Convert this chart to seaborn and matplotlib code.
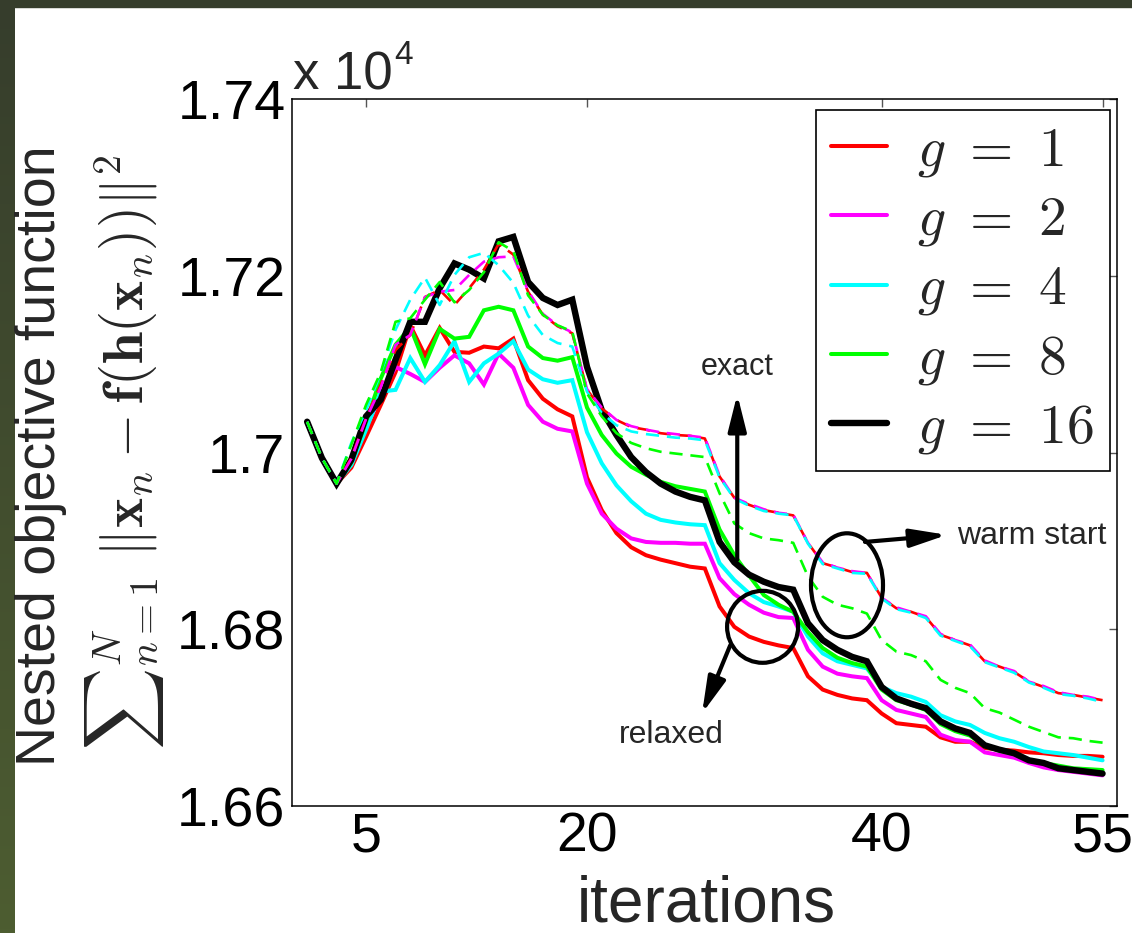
import numpy as np
import pandas as pd
import matplotlib
matplotlib.use("Agg")
import matplotlib.pyplot as plt
import seaborn as sns
from matplotlib.patches import Ellipse, Rectangle
from matplotlib.colors import LinearSegmentedColormap
from matplotlib.ticker import FuncFormatter

# ---------------- data ----------------
iterations = list(range(1, 56))

relaxed_g1 = [17035, 16994, 16965, 16983, 17018, 17054, 17091, 17144, 17110, 17141,
              17114, 17113, 17120, 17118, 17129, 17082, 17061, 17049, 17041, 16972,
              16935, 16909, 16893, 16884, 16879, 16875, 16871, 16869, 16826, 16803,
              16792, 16786, 16782, 16779, 16747, 16732, 16726, 16722, 16720, 16705,
              16694, 16692, 16690, 16678, 16673, 16673, 16666, 16664, 16663, 16661,
              16660, 16658, 16657, 16657, 16656]
relaxed_g2 = [17035, 16994, 16965, 16989, 17029, 17065, 17097, 17089, 17080, 17096,
              17110, 17101, 17077, 17112, 17096, 17054, 17035, 17027, 17024, 16965,
              16931, 16914, 16903, 16899, 16898, 16898, 16897, 16897, 16858, 16840,
              16828, 16819, 16814, 16813, 16777, 16758, 16750, 16747, 16745, 16720,
              16709, 16705, 16701, 16681, 16675, 16673, 16661, 16658, 16655, 16649,
              16644, 16641, 16639, 16637, 16635]
relaxed_g4 = [17035, 16994, 16965, 16986, 17026, 17069, 17071, 17107, 17080, 17099,
              17126, 17080, 17101, 17112, 17126, 17094, 17083, 17079, 17082, 17023,
              16988, 16963, 16945, 16931, 16924, 16921, 16919, 16918, 16875, 16856,
              16841, 16831, 16826, 16820, 16792, 16773, 16764, 16760, 16756, 16735,
              16728, 16724, 16718, 16703, 16696, 16692, 16683, 16677, 16673, 16667,
              16662, 16660, 16658, 16655, 16652]
relaxed_g8 = [17035, 16994, 16965, 16989, 17035, 17084, 17122, 17142, 17100, 17140,
              17129, 17131, 17161, 17165, 17161, 17120, 17107, 17104, 17108, 17051,
              17020, 16999, 16984, 16975, 16967, 16962, 16959, 16956, 16913, 16884,
              16861, 16839, 16828, 16820, 16797, 16779, 16768, 16762, 16758, 16732,
              16720, 16715, 16709, 16693, 16685, 16680, 16668, 16663, 16659, 16652,
              16649, 16646, 16643, 16642, 16641]
relaxed_g16 = [17035, 16994, 16965, 16992, 17041, 17060, 17105, 17148, 17148, 17186,
               17214, 17207, 17197, 17239, 17244, 17193, 17175, 17167, 17173, 17097,
               17048, 17020, 16995, 16978, 16965, 16956, 16950, 16946, 16899, 16876,
               16862, 16854, 16848, 16845, 16807, 16788, 16777, 16769, 16764, 16735,
               16722, 16716, 16711, 16696, 16688, 16683, 16669, 16664, 16660, 16652,
               16649, 16643, 16641, 16639, 16637]

warm_g1 = [17035, 16994, 16965, 16994, 17039, 17077, 17116, 17133, 17176, 17184,
           17167, 17186, 17207, 17236, 17224, 17182, 17156, 17143, 17135, 17071,
           17050, 17037, 17029, 17026, 17022, 17020, 17019, 17016, 16973, 16949,
           16941, 16935, 16932, 16929, 16898, 16875, 16870, 16865, 16864, 16836,
           16824, 16820, 16814, 16794, 16788, 16782, 16764, 16758, 16752, 16741,
           16735, 16728, 16726, 16723, 16720]
warm_g2 = [17035, 16994, 16965, 16993, 17038, 17074, 17122, 17133, 17176, 17182,
           17184, 17201, 17216, 17221, 17222, 17183, 17157, 17144, 17136, 17072,
           17051, 17037, 17030, 17026, 17023, 17021, 17019, 17017, 16974, 16949,
           16942, 16936, 16932, 16930, 16898, 16876, 16870, 16866, 16864, 16836,
           16825, 16820, 16815, 16795, 16788, 16783, 16765, 16758, 16753, 16741,
           16736, 16729, 16726, 16724, 16720]
warm_g4 = [17035, 16994, 16965, 17011, 17048, 17090, 17139, 17173, 17198, 17167,
           17201, 17221, 17226, 17212, 17192, 17155, 17133, 17124, 17120, 17069,
           17045, 17031, 17024, 17021, 17019, 17017, 17016, 17014, 16972, 16948,
           16940, 16934, 16931, 16929, 16897, 16874, 16869, 16864, 16863, 16835,
           16823, 16819, 16813, 16793, 16787, 16781, 16763, 16757, 16751, 16740,
           16734, 16727, 16725, 16722, 16718]
warm_g8 = [17035, 16994, 16965, 17009, 17054, 17091, 17148, 17152, 17173, 17193,
           17170, 17184, 17204, 17238, 17228, 17178, 17156, 17144, 17137, 17067,
           17041, 17022, 17011, 17005, 17001, 16999, 16997, 16995, 16954, 16920,
           16909, 16903, 16901, 16898, 16860, 16837, 16828, 16824, 16818, 16788,
           16775, 16771, 16764, 16743, 16734, 16728, 16711, 16706, 16698, 16690,
           16684, 16678, 16677, 16674, 16672]

legend_labels = [r'$g\ =\ 1$', r'$g\ =\ 2$', r'$g\ =\ 4$', r'$g\ =\ 8$', r'$g\ =\ 16$']
x_ticks = [5, 20, 40, 55]
y_ticks = [16600, 16800, 17000, 17200, 17400]

# ---------------- style ----------------
sns.set_style("white")
plt.rcParams['font.family'] = ['Liberation Sans', 'DejaVu Sans']
plt.rcParams['mathtext.fontset'] = 'cm'
plt.rcParams['lines.dashed_pattern'] = [5.0, 3.0]

W, H = 1132, 933
fig = plt.figure(figsize=(W / 100, H / 100), dpi=100)
fig.patch.set_facecolor('white')

# dark olive frame (left gradient strip + top strip)
bg = fig.add_axes([0, 0, 15 / W, 1])
bg.axis('off')
cmap = LinearSegmentedColormap.from_list('olive', ['#4d5d31', '#363d2c'])
bg.imshow(np.linspace(0, 1, 256).reshape(-1, 1), aspect='auto', cmap=cmap,
          origin='lower', extent=[0, 1, 0, 1])
fig.patches.append(Rectangle((0, 1 - 7 / H), 1, 7 / H, transform=fig.transFigure,
                             color='#363d2c', zorder=5))

ax = fig.add_axes([292.4 / W, (H - 806.3) / H, 824.9 / W, 707.3 / H])
ax.set_facecolor('white')

solid_series = [relaxed_g1, relaxed_g2, relaxed_g4, relaxed_g8, relaxed_g16]
solid_colors = ['#ff0000', '#ff00ff', '#00ffff', '#00ff00', '#000000']
solid_widths = [2.9, 2.9, 2.9, 2.9, 4.6]
handles = []
for vals, col, lw, lab in zip(solid_series, solid_colors, solid_widths, legend_labels):
    sns.lineplot(x=iterations, y=vals, color=col, lw=lw, ax=ax, legend=False,
                 solid_joinstyle='miter')
    line = ax.lines[-1]
    line.set_label(lab)
    handles.append(line)

warm_series = [warm_g1, warm_g2, warm_g4, warm_g8]
warm_colors = ['#ff0000', '#ff00ff', '#00ffff', '#00ff00']
for vals, col in zip(warm_series, warm_colors):
    sns.lineplot(x=iterations, y=vals, color=col, lw=1.9, linestyle='--', ax=ax,
                 legend=False)

ax.set_xlim(0, 56)
ax.set_ylim(16600, 17400)
ax.set_xticks(x_ticks)
ax.set_yticks(y_ticks)
ax.yaxis.set_major_formatter(FuncFormatter(lambda v, p: f'{v / 1e4:g}'))
ax.set_xlabel('')
ax.set_ylabel('')
for s in ax.spines.values():
    s.set_visible(True)
    s.set_color('black')
    s.set_linewidth(1.1)
ax.tick_params(axis='both', direction='in', length=6, width=1.0, color='#555555',
               top=True, right=True, labelsize=40, labelcolor='black')
ax.tick_params(axis='x', pad=4)
ax.tick_params(axis='y', pad=5)

# legend
leg = ax.legend(handles=handles, labels=legend_labels, loc='upper right',
                bbox_to_anchor=(0.991, 0.984), borderaxespad=0, fontsize=40,
                frameon=True, fancybox=False, edgecolor='black', framealpha=1,
                handlelength=1.0, handletextpad=0.55, borderpad=0.28,
                labelspacing=0.28)
leg.get_frame().set_linewidth(1.2)

# annotations
arrow_kw = dict(arrowstyle='-|>,head_length=2.2,head_width=0.55', lw=3,
                color='black', shrinkA=0, shrinkB=0)
ax.annotate('', xy=(30.2, 17066), xytext=(30.2, 16879), arrowprops=arrow_kw)
ax.text(30.2, 17097, 'exact', fontsize=22, ha='center', va='center')

ax.add_patch(Ellipse((37.65, 16850), 4.89, 117.6, fill=False, lw=3, ec='black',
                     zorder=6))
ax.annotate('', xy=(44.44, 16907), xytext=(38.87, 16899), arrowprops=arrow_kw)
ax.text(45.12, 16906, 'warm start', fontsize=23, ha='left', va='center')

ax.add_patch(Ellipse((31.92, 16803), 4.82, 81.4, fill=False, lw=3, ec='black',
                     zorder=6))
ax.annotate('', xy=(27.81, 16705), xytext=(29.72, 16782), arrowprops=arrow_kw)
ax.text(25.7, 16681, 'relaxed', fontsize=23, ha='center', va='center')

# axis titles
fig.text(706 / W, 1 - 921 / H, 'iterations', fontsize=46, ha='center',
         va='baseline')
fig.text(41 / W, 1 - 456 / H, 'Nested objective function', fontsize=40,
         rotation=90, ha='center', va='center')
fig.text(125 / W, 1 - 452 / H,
         r'${\sum}_{n=1}^{N}\ \|\mathbf{x}_n-\mathbf{f}(\mathbf{h}(\mathbf{x}_n))\|^2$',
         fontsize=41, rotation=90, ha='center', va='center')

# exponent label
fig.text(293 / W, 1 - 90 / H, 'x 10', fontsize=38, ha='left', va='baseline')
fig.text(394 / W, 1 - 64 / H, '4', fontsize=24, ha='left', va='baseline')

fig.savefig('out.png', dpi=100, facecolor=fig.get_facecolor())
